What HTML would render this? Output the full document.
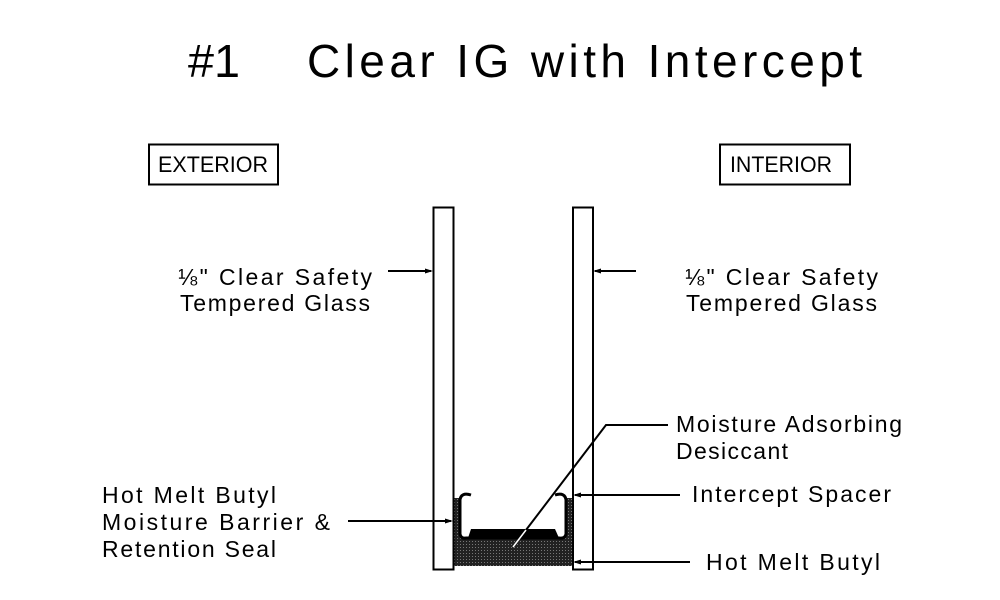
<!DOCTYPE html>
<html><head><style>
html,body{margin:0;padding:0;background:#fff;}
svg{display:block;}
text{font-family:"Liberation Sans",sans-serif;fill:#000;}
</style></head><body>
<svg width="1000" height="600" viewBox="0 0 1000 600" xmlns="http://www.w3.org/2000/svg">
<defs>
<pattern id="dots" width="3" height="3" patternUnits="userSpaceOnUse">
<rect width="3" height="3" fill="#222"/><rect x="1" y="1" width="1" height="1" fill="#777"/>
</pattern>
</defs>
<text x="188" y="77" font-size="46" textLength="52" lengthAdjust="spacingAndGlyphs">#1</text>
<text x="307" y="77" font-size="46" textLength="555" lengthAdjust="spacing">Clear IG with Intercept</text>
<rect x="149" y="144.5" width="129" height="40" fill="none" stroke="#000" stroke-width="2"/>
<text x="158" y="172" font-size="22" textLength="110" lengthAdjust="spacingAndGlyphs">EXTERIOR</text>
<rect x="720" y="144.5" width="130" height="40" fill="none" stroke="#000" stroke-width="2"/>
<text x="730" y="172" font-size="22" textLength="102" lengthAdjust="spacingAndGlyphs">INTERIOR</text>
<rect x="453" y="498" width="120" height="68" fill="url(#dots)"/>
<rect x="461" y="490" width="104" height="47" fill="#fff"/>
<rect x="433.5" y="207.5" width="20" height="362" fill="#fff" stroke="#000" stroke-width="2"/>
<rect x="573" y="207.5" width="20" height="362" fill="#fff" stroke="#000" stroke-width="2"/>
<path d="M471,495 Q461,492 460,500 L460,534 Q461,539 466,538 L559,538 Q565,539 566,534 L566,500 Q565,492 555,495" fill="none" stroke="#000" stroke-width="3"/>
<polygon points="468,538 471,529 555,529 559,538" fill="#000"/>
<g stroke="#000" stroke-width="2" fill="none">
<line x1="388" y1="271" x2="431" y2="271"/>
<line x1="595" y1="271" x2="636" y2="271"/>
<line x1="348" y1="521" x2="451" y2="521"/>
<line x1="575" y1="495" x2="680" y2="495"/>
<line x1="575" y1="562" x2="690" y2="562"/>
<polyline points="526,530 606,425 668,425"/>
</g>
<line x1="526" y1="530" x2="513" y2="547" stroke="#fff" stroke-width="1.5"/>
<g fill="#000">
<polygon points="433,271 425,268.5 425,273.5"/>
<polygon points="593,271 601,268.5 601,273.5"/>
<polygon points="453,521 445,518.5 445,523.5"/>
<polygon points="573,495 581,492.5 581,497.5"/>
<polygon points="573,562 581,559.5 581,564.5"/>
</g>
<g font-size="23">
<text x="178" y="285" textLength="194" lengthAdjust="spacing">⅛" Clear Safety</text>
<text x="180" y="311" textLength="190" lengthAdjust="spacing">Tempered Glass</text>
<text x="685" y="285" textLength="193" lengthAdjust="spacing">⅛" Clear Safety</text>
<text x="686" y="311" textLength="191" lengthAdjust="spacing">Tempered Glass</text>
<text x="676" y="432" textLength="226" lengthAdjust="spacing">Moisture Adsorbing</text>
<text x="676" y="459" textLength="112" lengthAdjust="spacing">Desiccant</text>
<text x="692" y="502" textLength="199" lengthAdjust="spacing">Intercept Spacer</text>
<text x="706" y="570" textLength="174" lengthAdjust="spacing">Hot Melt Butyl</text>
<text x="102" y="503" textLength="174" lengthAdjust="spacing">Hot Melt Butyl</text>
<text x="102" y="530" textLength="228" lengthAdjust="spacing">Moisture Barrier &amp;</text>
<text x="102" y="557" textLength="174" lengthAdjust="spacing">Retention Seal</text>
</g>
</svg>
</body></html>
